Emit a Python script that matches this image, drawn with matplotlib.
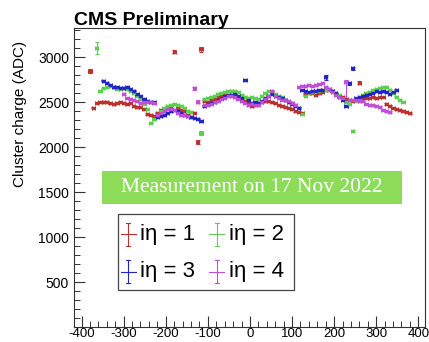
import numpy as np
import matplotlib
matplotlib.use("Agg")
import matplotlib.pyplot as plt
from matplotlib.patches import Rectangle
from matplotlib.lines import Line2D

nan = np.nan

# strip-group positions (mm), common to all eta partitions
x_pos = np.arange(-380, 381, 8)

charge_ieta1 = [
    2850, 2440, 2490, 2505, 2505, 2498, 2490, 2482, 2492, 2505, 2490, 2482, 2495, 2462, 2448, 2450,
    2425, 2370, 2362, 2352, 2385, 2410, 2430, 2445, 2450, 3063, 2440, 2418, 2405, 2362, 2342, 2385,
    2056, 3089, 2512, 2507, 2520, 2535, 2555, 2566, 2576, 2581, 2578, 2568, 2552, 2530, 2512, 2505,
    2455, 2472, 2495, 2508, 2512, 2510, 2505, 2490, 2472, 2462, 2450, 2436, 2426, 2405, 2392, 2380,
    2595, 2600, 2598, 2585, 2598, 2615, 2632, 2642, 2620, 2595, 2575, 2560, 2540, 2525, 2518, 2526,
    2718, 2540, 2545, 2548, 2560, 2545, 2560, 2562, 2482, 2458, 2440, 2422, 2412, 2400, 2390, 2380,
]
charge_ieta2 = [
    nan, nan, 3107, 2625, 2655, 2670, 2680, 2668, 2650, 2652, 2655, 2648, 2630, 2600, 2573, 2540,
    2478, 2430, 2275, 2312, 2350, 2405, 2440, 2462, 2475, 2478, 2470, 2462, 2435, 2405, 2388, nan,
    nan, 2162, 2542, 2552, 2560, 2575, 2592, 2608, 2616, 2624, 2628, 2625, 2610, 2585, 2560, 2545,
    2555, 2544, 2537, 2565, 2598, 2620, 2612, 2590, 2575, 2563, 2526, 2507, 2488, 2465, 2440, 2370,
    2575, 2605, 2618, 2620, 2626, 2635, 2642, 2640, 2625, 2600, 2578, 2540, 2505, 2478, 2181, 2510,
    2545, 2580, 2600, 2618, 2632, 2645, 2655, 2667, 2665, 2637, 2600, 2563, 2526, 2507, nan, nan,
]
charge_ieta3 = [
    nan, nan, nan, nan, 2740, 2715, 2688, 2668, 2665, 2658, 2662, 2672, 2645, 2628, 2595, 2565,
    2535, 2510, 2502, 2505, 2333, 2345, 2360, 2385, 2405, 2414, 2408, 2385, 2360, 2345, 2337, 2330,
    2318, 2292, 2459, 2480, 2492, 2508, 2525, 2548, 2565, 2576, 2585, 2588, 2575, 2552, 2744, 2525,
    2490, 2505, 2492, 2510, 2545, 2575, 2590, 2575, 2560, 2545, 2528, 2500, 2478, 2458, 2438, 2640,
    2628, 2618, 2620, 2628, 2634, 2640, 2778, 2648, 2628, 2598, 2560, 2528, 2455, 2710, 2878, 2545,
    2555, 2568, 2578, 2590, 2608, 2620, 2615, 2625, 2612, 2595, 2615, 2637, nan, nan, nan, nan,
]
charge_ieta4 = [
    nan, nan, nan, nan, nan, nan, nan, nan, nan, nan, 2590, 2545, 2535, 2522, 2510, 2495,
    2505, 2498, 2505, 2490, 2360, 2385, 2405, 2420, 2422, 2410, 2385, 2362, 2355, 2350, nan, 2655,
    2507, nan, 2465, 2470, 2482, 2505, 2518, 2532, 2552, 2566, 2568, 2555, 2535, 2515, 2496, 2472,
    2477, 2470, 2475, 2505, 2535, 2570, 2630, 2575, 2548, 2530, 2525, 2510, 2490, 2470, 2673, 2680,
    2681, 2688, 2681, 2692, 2700, 2711, 2673, 2644, 2618, 2581, 2563, 2544, 2730, 2530, 2530, 2520,
    2515, 2510, 2485, 2475, 2465, 2460, 2450, 2410, 2400, 2392, nan, nan, nan, nan, nan, nan,
]

# statistical uncertainties: small everywhere, larger on the edge strips
err_default = 8
err_large = {
    "ieta1": {0: 25, 25: 15, 32: 25, 33: 25, 80: 20},
    "ieta2": {2: 65, 33: 20, 78: 15},
    "ieta3": {46: 12, 70: 30, 77: 15, 78: 15},
    "ieta4": {31: 20, 32: 15},
}
# one asymmetric error on iη = 4
asym_ieta4 = {76: (210, 20)}

labels = ["iη = 1", "iη = 2", "iη = 3", "iη = 4"]
colors = ["#b8322e", "#5ccf4c", "#2424c6", "#c04ed6"]
series = [charge_ieta1, charge_ieta2, charge_ieta3, charge_ieta4]
keys = ["ieta1", "ieta2", "ieta3", "ieta4"]

plt.rcParams["font.family"] = ["Liberation Sans", "DejaVu Sans"]
plt.rcParams["axes.unicode_minus"] = False

fig = plt.figure(figsize=(4.29, 3.42), dpi=100)
ax = fig.add_axes([74 / 429, 1 - 327.3 / 342, 351 / 429, 299 / 342])

for vals, key, col in zip(series, keys, colors):
    y = np.array(vals, dtype=float)
    lo = np.full(y.shape, float(err_default))
    hi = np.full(y.shape, float(err_default))
    for i, e in err_large.get(key, {}).items():
        lo[i] = hi[i] = e
    if key == "ieta4":
        for i, (a, b) in asym_ieta4.items():
            lo[i], hi[i] = a, b
    m = ~np.isnan(y)
    ax.errorbar(x_pos[m], y[m], xerr=3.9, yerr=[lo[m], hi[m]], fmt="s", ms=1.7,
                color=col, mec=col, mfc=col, elinewidth=0.8, capsize=1.4,
                capthick=0.8, lw=0)

ax.set_xlim(-418, 416)
ax.set_ylim(0, 3322)
ax.set_xticks(np.arange(-400, 401, 100))
ax.set_xticks(np.arange(-400, 401, 20), minor=True)
ax.set_yticks(np.arange(500, 3001, 500))
ax.set_yticks(np.arange(100, 3301, 100), minor=True)
ax.tick_params(axis="both", which="both", direction="in", top=False, right=False,
               labelsize=10, colors="#333333", labelcolor="black")
ax.tick_params(axis="both", which="major", length=8, width=0.8)
ax.tick_params(axis="both", which="minor", length=4, width=0.7)
ax.tick_params(axis="x", pad=0.8, labelsize=9.5)
for s in ax.spines.values():
    s.set_linewidth(0.8)
    s.set_color("#333333")

fig.text(74 / 429, 1 - 25 / 342, "CMS Preliminary", fontsize=14, fontweight="bold",
         ha="left", va="baseline")
fig.text(20 / 429, 1 - 114 / 342, "Cluster charge (ADC)", fontsize=11, rotation=90,
         ha="center", va="center")

# banner with measurement date
ax.add_patch(Rectangle((0.08, 0.412), 0.854, 0.111, transform=ax.transAxes,
                       facecolor="#8cdc5a", edgecolor="none", zorder=5))
ax.text(0.507, 0.468, "Measurement on 17 Nov 2022", transform=ax.transAxes,
        family="Liberation Serif", fontsize=15.5, color="white", ha="center",
        va="center", zorder=6)

# legend box
ax.add_patch(Rectangle((0.125, 0.125), 0.502, 0.254, transform=ax.transAxes,
                       facecolor="white", edgecolor="#444444", lw=0.9, zorder=5))
sym_x = [0.154, 0.407, 0.154, 0.407]
txt_x = [0.189, 0.441, 0.189, 0.441]
row_y = [0.312, 0.312, 0.185, 0.185]
dx, dy, cap = 7.5 / 351, 11.5 / 299, 2.2 / 351
for sx, tx, ry, col, lab in zip(sym_x, txt_x, row_y, colors, labels):
    kw = dict(transform=ax.transAxes, color=col, lw=0.8, zorder=6)
    ax.add_line(Line2D([sx - dx, sx + dx], [ry, ry], **kw))
    ax.add_line(Line2D([sx, sx], [ry - dy, ry + dy], **kw))
    ax.add_line(Line2D([sx - cap, sx + cap], [ry + dy, ry + dy], **kw))
    ax.add_line(Line2D([sx - cap, sx + cap], [ry - dy, ry - dy], **kw))
    ax.text(tx, ry, lab, transform=ax.transAxes, fontsize=16, ha="left",
            va="center", zorder=6)

fig.savefig("out.png", dpi=100)
